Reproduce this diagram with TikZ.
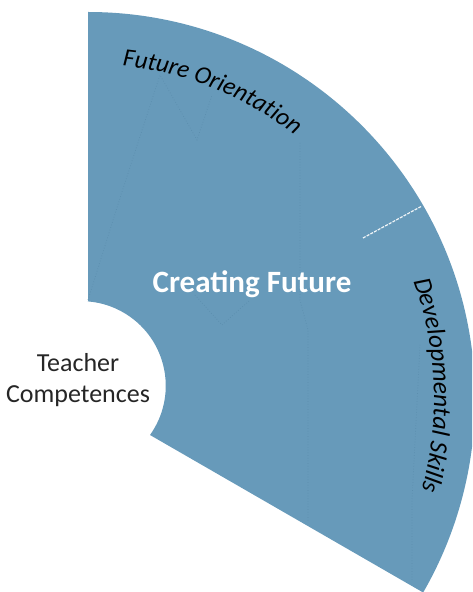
\documentclass[tikz,border=0pt]{standalone}
\usepackage{fontspec}
\setmainfont{Carlito}
\usetikzlibrary{decorations.text}
\definecolor{wedge}{RGB}{103,154,186}
\definecolor{seam}{RGB}{92,142,174}
\tikzset{
  wedgefill/.style={fill=wedge,draw=none},
  seamline/.style={draw=seam,line width=0.7pt,dotted},
  divider/.style={draw=white!90!wedge,line width=1.2pt,dash pattern=on 3pt off 1.2pt},
  plainlabel/.style={font=\fontsize{26}{30.5}\selectfont,text=black!85,align=center,inner sep=0pt},
  titlelabel/.style={font=\fontsize{31}{34}\selectfont\bfseries,text=white,inner sep=0pt}
}
\begin{document}
\begin{tikzpicture}[x=1pt,y=1pt]
\useasboundingbox (0,0) rectangle (472,592);
\clip (0,0) rectangle (472,592);
\path[wedgefill] (88,291) -- (88,580) arc[start angle=90,end angle=-30,radius=387pt] -- (150,157) arc[start angle=-35.5,end angle=85.5,radius=84.7pt] -- cycle;
% faint seams inside the wedge
\path[seamline] (88,292) -- (120,394) -- (160,517) -- (197,452) -- (212,497);
\path[seamline] (300,449) -- (300,292) -- (308,262) -- (308,70);
\path[seamline] (195,297) -- (222,267) -- (250,292);
\path[seamline] (412,12) -- (412,92) -- (420,247);
% divider
\coordinate (dashA) at (363,354);
\coordinate (dashB) at (422,386);
\path[divider] (dashA) -- (dashB);
% labels
\node[titlelabel] (title) at (252,308) {Creating Future};
\node[plainlabel] (teacher) at (78,212) {Teacher\\Competences};
\begin{scope}[shift={(88,193)}]
\path[decorate,decoration={text along path,text align=center,
  text={|\fontsize{25}{28}\selectfont\itshape|Future Orientation}}]
  (88:335pt) arc[start angle=88,end angle=48,radius=335pt];
\path[decorate,decoration={text along path,text align=center,
  text={|\fontsize{25.5}{28}\selectfont\itshape|Developmental Skills}}]
  (24:346pt) arc[start angle=24,end angle=-19.4,radius=346pt];
\end{scope}
\end{tikzpicture}
\end{document}
